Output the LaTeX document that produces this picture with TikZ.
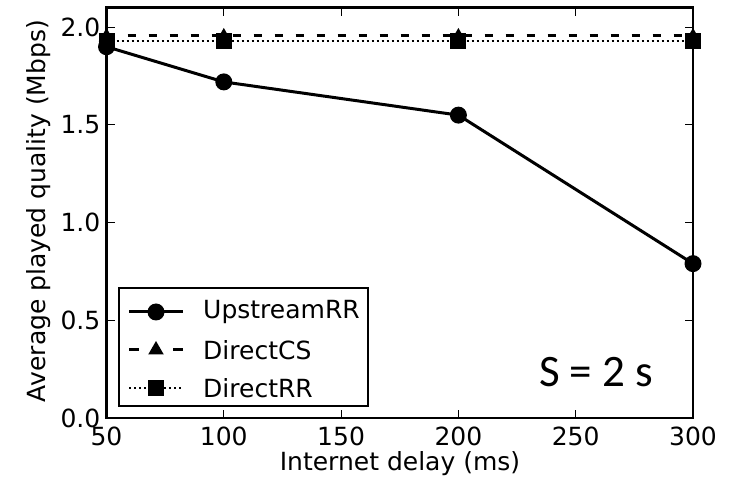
\documentclass[tikz,border=0pt]{standalone}
\usepackage{fontspec}
\setmainfont{DejaVu Sans}
\newfontfamily\notefont{Carlito}
\usetikzlibrary{shapes.geometric}
\begin{document}
\begin{tikzpicture}[x=1pt,y=1pt,
  lbl/.style={font=\fontsize{25}{28}\selectfont, inner sep=0pt},
  axisframe/.style={line width=2.4pt},
  tickmark/.style={line width=1pt},
  series/.style={line width=3pt},
  dot/.style={circle, fill=black, minimum size=17pt, inner sep=0pt},
  tri/.style={regular polygon, regular polygon sides=3, fill=black, minimum size=18pt, inner sep=0pt},
  sq/.style={rectangle, fill=black, minimum size=16pt, inner sep=0pt},
  dashline/.style={series, dash pattern=on 8pt off 13pt},
  dotline/.style={line width=2pt, dash pattern=on 2pt off 3pt}
]
\useasboundingbox (0,0) rectangle (735,484);

% data area: x in ms, y in Mbps
\begin{scope}[x={(2.346pt,0)}, y={(0,195.4pt)}, shift={(-10.8pt,66pt)}]
  \coordinate (ll) at (50,0);
  \coordinate (ur) at (300,2.1);

  % DirectCS
  \draw[dashline] (50,1.955) -- (300,1.955);
  \foreach \d in {50,100,200,300} \node[tri] (cs\d) at (\d,1.95) {};
  % DirectRR
  \draw[dotline] (50,1.93) -- (300,1.93);
  \foreach \d in {50,100,200,300} \node[sq] (rr\d) at (\d,1.93) {};
  % UpstreamRR
  \node[dot] (u50) at (50,1.9) {};
  \node[dot] (u100) at (100,1.72) {};
  \node[dot] (u200) at (200,1.55) {};
  \node[dot] (u300) at (300,0.79) {};
  \draw[series] (u50.center) -- (u100.center) -- (u200.center) -- (u300.center);

  % ticks and tick labels
  \foreach \d in {50,100,150,200,250,300} {
    \draw[tickmark] (\d,0) -- ++(0,8pt);
    \draw[tickmark] (\d,2.1) -- ++(0,-8pt);
    \node[lbl, anchor=north] (xt\d) at ([yshift=-9pt]\d,0) {\d};
  }
  \foreach \v in {0.0,0.5,1.0,1.5,2.0} {
    \draw[tickmark] (50,\v) -- ++(8pt,0);
    \draw[tickmark] (300,\v) -- ++(-8pt,0);
    \node[lbl, anchor=east] (yt\v) at ([xshift=-6pt]50,\v) {\v};
  }
  \draw[axisframe] (ll) rectangle (ur);
\end{scope}

% axis titles
\node[lbl, anchor=base] (xtitle) at (400,14) {Internet delay (ms)};
\node[lbl, rotate=90, anchor=base] (ytitle) at (45,273) {Average played quality (Mbps)};

% legend
\node[draw, line width=1.8pt, minimum width=249pt, minimum height=118pt, inner sep=0pt] (legend) at (243.5,137) {};
\coordinate (l1a) at (129,172); \coordinate (l1b) at (183,172);
\coordinate (l2a) at (129,134); \coordinate (l2b) at (183,134);
\coordinate (l3a) at (129,96);  \coordinate (l3b) at (183,96);
\draw[series] (l1a) -- (l1b);
\node[dot] (lm1) at (156,172) {};
\draw[series, dash pattern=on 10pt off 34pt] (l2a) -- (l2b);
\node[tri] (lm2) at (156,134) {};
\draw[dotline] (l3a) -- (l3b);
\node[sq] (lm3) at (156,96) {};
\node[lbl, anchor=west] (t1) at (203,172) {UpstreamRR};
\node[lbl, anchor=west] (t2) at (203,134) {DirectCS};
\node[lbl, anchor=west] (t3) at (203,96) {DirectRR};

% annotation
\node[inner sep=0pt, font=\notefont\fontsize{45}{50}\selectfont] (note) at (596,112) {S = 2 s};
\end{tikzpicture}
\end{document}
